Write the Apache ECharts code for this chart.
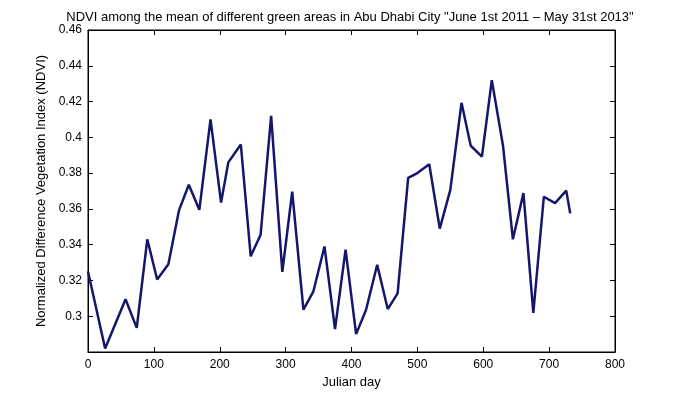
<!DOCTYPE html>
<html>
<head>
<meta charset="utf-8">
<script src="https://cdn.jsdelivr.net/npm/echarts@6/dist/echarts.min.js"></script>
<style>
  html, body { margin: 0; padding: 0; background: #fff; }
  #chart { width: 680px; height: 397px; }
</style>
</head>
<body>
<div id="chart"></div>
<script>
// julian day of each composite and its mean NDVI
var days = [0, 26, 57, 74, 90, 105, 122, 138, 153, 169, 186, 202, 213, 232, 247, 262,
  278, 295, 310, 327, 342, 359, 375, 391, 407, 422, 439, 455, 470, 486, 500, 518,
  534, 550, 567, 581, 598, 613, 630, 645, 661, 676, 692, 709, 726, 732];
var ndvi = [0.325, 0.282, 0.3095, 0.2935, 0.343, 0.3205, 0.329, 0.359, 0.3735, 0.3595, 0.41, 0.3635, 0.386, 0.396, 0.3335, 0.3455,
  0.412, 0.3248, 0.3697, 0.3037, 0.3137, 0.339, 0.2928, 0.3372, 0.29, 0.3035, 0.3288, 0.304, 0.3128, 0.3774, 0.38, 0.385,
  0.349, 0.3706, 0.4193, 0.3953, 0.3892, 0.432, 0.3953, 0.343, 0.3688, 0.3018, 0.3668, 0.3632, 0.3702, 0.3575];

var xTicks = [0, 100, 200, 300, 400, 500, 600, 700, 800];
var yTicks = [0.3, 0.32, 0.34, 0.36, 0.38, 0.4, 0.42, 0.44, 0.46];

var txt = { color: '#000', fontFamily: 'Liberation Sans', fontSize: 12 };
var big = { color: '#000', fontFamily: 'Liberation Sans', fontSize: 13, fontWeight: 'normal' };

var chart = echarts.init(document.getElementById('chart'));

var line = { show: true, onZero: false, lineStyle: { color: '#000', width: 1 } };
var tick = { show: true, inside: true, length: 5, lineStyle: { color: '#000' } };
var points = days.map(function (d, i) { return [d, ndvi[i]]; });

chart.setOption({
  animation: false,
  backgroundColor: '#fff',
  title: {
    text: 'NDVI among the mean of different green areas in Abu Dhabi City "June 1st 2011 \u2013 May 31st 2013"',
    left: 345, textAlign: 'center', top: 6,
    textStyle: big
  },
  grid: { left: 88, right: 65, top: 30, bottom: 45, show: true, borderColor: '#000', borderWidth: 1 },
  xAxis: [
    {
      type: 'value', min: 0, max: 800, interval: 100, position: 'bottom',
      name: 'Julian day', nameLocation: 'middle', nameGap: 23, nameTextStyle: big,
      axisLine: line, axisTick: tick, splitLine: { show: false },
      axisLabel: Object.assign({ margin: 7 }, txt, {
        formatter: function (v) { return xTicks.indexOf(v) >= 0 ? String(v) : ''; }
      })
    },
    {
      type: 'value', min: 0, max: 800, interval: 100, position: 'top',
      axisLine: line, axisTick: tick, axisLabel: { show: false }, splitLine: { show: false }
    }
  ],
  yAxis: [
    {
      type: 'value', min: 0.28, max: 0.46, interval: 0.02, position: 'left',
      name: 'Normalized Difference Vegetation Index (NDVI)',
      nameLocation: 'middle', nameGap: 32, nameTextStyle: big,
      axisLine: line, axisTick: tick, splitLine: { show: false },
      axisLabel: Object.assign({ margin: 6 }, txt, {
        formatter: function (v) {
          var r = Math.round(v * 100) / 100;
          return yTicks.indexOf(r) >= 0 ? String(r) : '';
        }
      })
    },
    {
      type: 'value', min: 0.28, max: 0.46, interval: 0.02, position: 'right',
      axisLine: line, axisTick: tick, axisLabel: { show: false }, splitLine: { show: false }
    }
  ],
  series: [
    {
      type: 'line',
      data: points,
      showSymbol: false,
      lineStyle: { color: '#14166b', width: 2.5 },
      itemStyle: { color: '#14166b' }
    },
    {
      // invisible twin so the top and right box axes get drawn
      type: 'line', xAxisIndex: 1, yAxisIndex: 1,
      data: points, showSymbol: false, silent: true,
      lineStyle: { opacity: 0 }
    }
  ]
});
</script>
</body>
</html>
